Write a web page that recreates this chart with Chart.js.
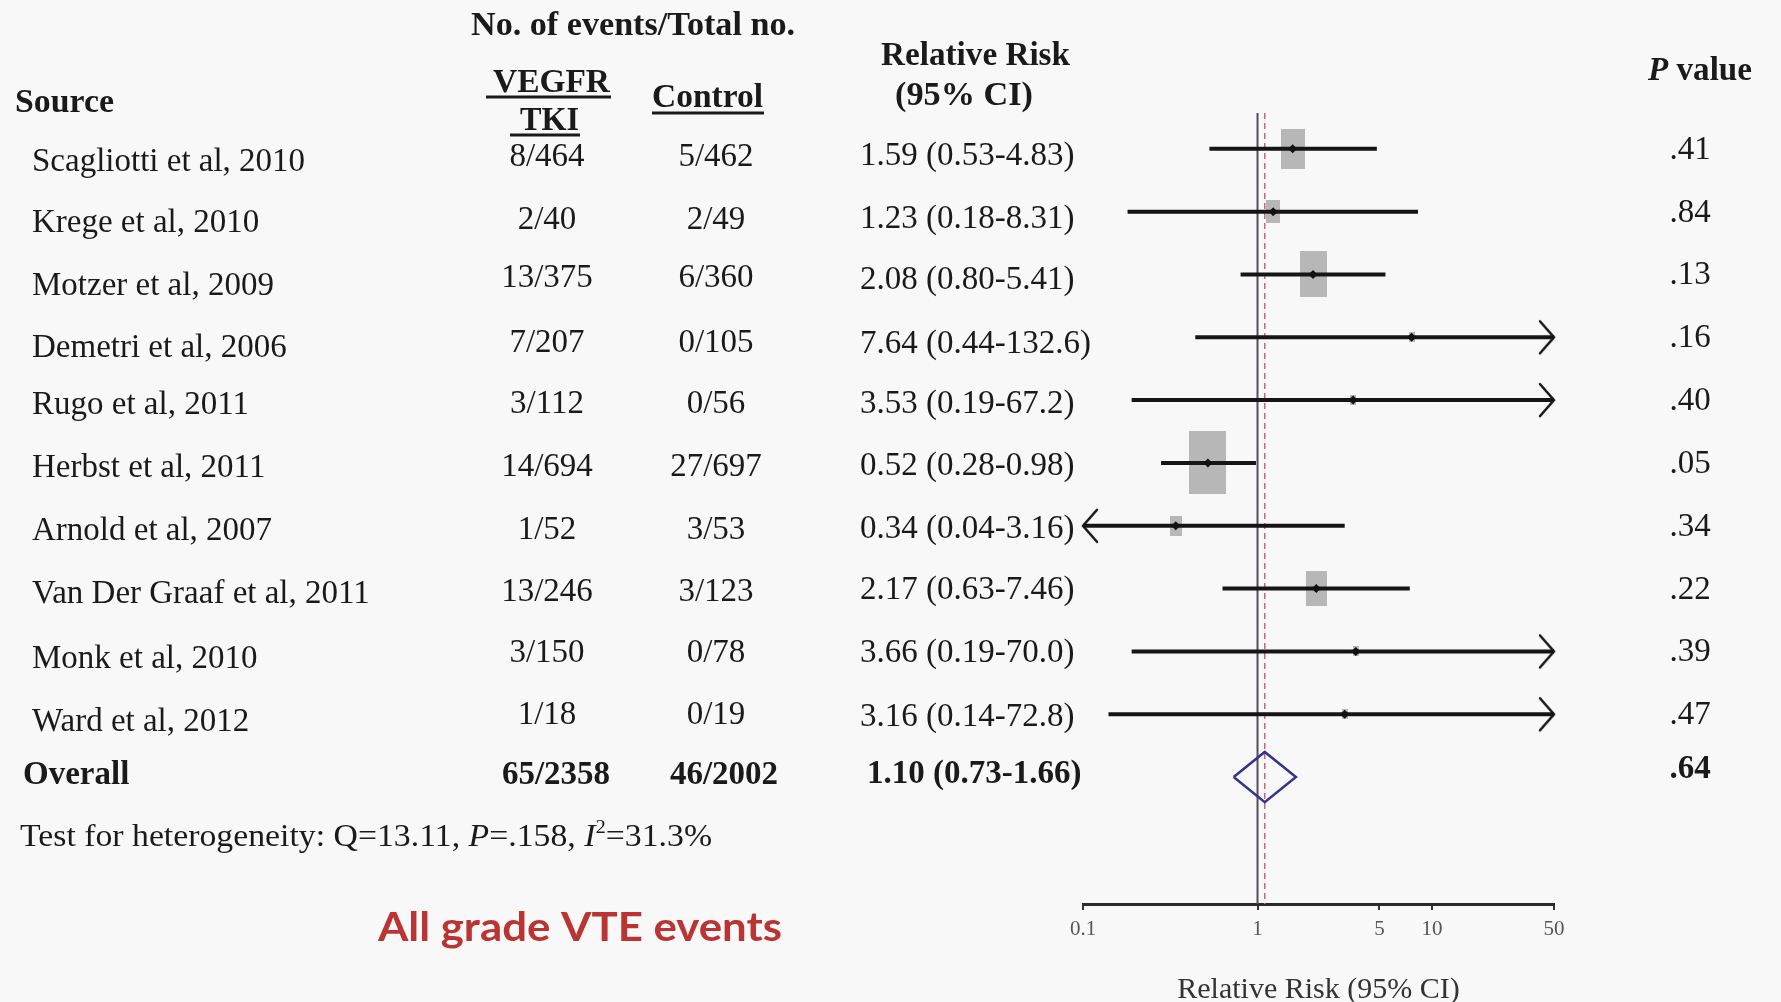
<!DOCTYPE html>
<html>
<head>
<meta charset="utf-8">
<script src="https://cdn.jsdelivr.net/npm/chart.js@4.4.1/dist/chart.umd.min.js"></script>
<style>
  html, body { margin: 0; padding: 0; background: #f8f8f8; }
  #wrap { width: 1781px; height: 1002px; }
</style>
</head>
<body>
<div id="wrap"><canvas id="forest" width="1781" height="1002"></canvas></div>
<script>
const sources = [
  "Scagliotti et al, 2010", "Krege et al, 2010", "Motzer et al, 2009",
  "Demetri et al, 2006", "Rugo et al, 2011", "Herbst et al, 2011",
  "Arnold et al, 2007", "Van Der Graaf et al, 2011", "Monk et al, 2010",
  "Ward et al, 2012",
];
const tkiEvents = ["8/464", "2/40", "13/375", "7/207", "3/112", "14/694", "1/52", "13/246", "3/150", "1/18"];
const controlEvents = ["5/462", "2/49", "6/360", "0/105", "0/56", "27/697", "3/53", "3/123", "0/78", "0/19"];
const riskRatio = [1.59, 1.23, 2.08, 7.64, 3.53, 0.52, 0.34, 2.17, 3.66, 3.16];
const ciLow = [0.53, 0.18, 0.80, 0.44, 0.19, 0.28, 0.04, 0.63, 0.19, 0.14];
const ciHigh = [4.83, 8.31, 5.41, 132.6, 67.2, 0.98, 3.16, 7.46, 70.0, 72.8];
const pValues = [".41", ".84", ".13", ".16", ".40", ".05", ".34", ".22", ".39", ".47"];
// study weight (%)
const weights = [16, 5, 21, 1, 1, 39, 4, 12, 1, 1];

const overallRR = 1.10;
const overallLow = 0.73;
const overallHigh = 1.66;
const overallTki = "65/2358";
const overallControl = "46/2002";
const overallP = ".64";
const hetQ = "13.11";
const hetP = ".158";
const hetI2 = "31.3%";

const xTicks = [0.1, 1, 5, 10, 50];
const xTickLabels = ["0.1", "1", "5", "10", "50"];

const X_MIN = 0.1;
const X_MAX = 50;
const Y_TOP = -0.57;
const Y_BOTTOM = 12.02;
const OVERALL_ROW = sources.length;

const SERIF = '"Liberation Serif", "Times New Roman", serif';
const INK = "#1a1a1a";
// the pasted table sits a little lower than the plot on the first rows
const nameShift = [8, 6, 7, 6, 0, 0, 0, 0, 3, 3];
const countShift = [4, 4, 0, 2, 0, 0, 0, -1, -2, -3];
const rrShift = [3, 3, 2, 3, 0, -1, -1, -3, -2, -1];

function rrLabel(r, l, h) {
  const hs = h >= 10 ? h.toFixed(1) : h.toFixed(2);
  return r.toFixed(2) + " (" + l.toFixed(2) + "-" + hs + ")";
}

function boxCanvas(w) {
  const h = Math.round(10.1 * Math.sqrt(w));
  const c = document.createElement("canvas");
  c.width = Math.max(2, Math.round(h * 0.59));
  c.height = Math.max(2, h);
  const g = c.getContext("2d");
  g.fillStyle = "#b7b7b7";
  g.fillRect(0, 0, c.width, c.height);
  return c;
}

function chevron(dir) {
  const L = 14, H = 16;
  const c = document.createElement("canvas");
  c.width = L * 2 + 6;
  c.height = H * 2 + 6;
  const g = c.getContext("2d");
  const cx = c.width / 2, cy = c.height / 2;
  g.strokeStyle = "#151515";
  g.lineWidth = 2.5;
  g.lineCap = "round";
  g.beginPath();
  g.moveTo(cx - dir * L, cy - H);
  g.lineTo(cx, cy);
  g.lineTo(cx - dir * L, cy + H);
  g.stroke();
  return c;
}

const boxImgs = weights.map(boxCanvas);
const rightArrow = chevron(1);
const leftArrow = chevron(-1);

// text helpers
function fitText(ctx, str, x, y, font, width) {
  ctx.font = font;
  const natural = ctx.measureText(str).width;
  ctx.save();
  ctx.translate(x, y);
  ctx.scale(width / natural, 1);
  ctx.textAlign = "left";
  ctx.fillText(str, 0, 0);
  ctx.restore();
}

function drawRuns(ctx, runs, x, y, width) {
  let total = 0;
  runs.forEach((r) => { ctx.font = r.font; r.w = ctx.measureText(r.t).width; total += r.w; });
  const sx = width ? width / total : 1;
  ctx.save();
  ctx.translate(x, y);
  ctx.scale(sx, 1);
  ctx.textAlign = "left";
  let cx = 0;
  runs.forEach((r) => {
    ctx.font = r.font;
    ctx.fillText(r.t, cx, r.dy || 0);
    cx += r.w;
  });
  ctx.restore();
}

function plain(ctx, str, x, y, font, align) {
  ctx.font = font;
  ctx.textAlign = align;
  ctx.fillText(str, x, y);
}

function underline(ctx, x1, x2, y) {
  ctx.fillRect(x1, y - 1.5, x2 - x1, 3);
}

const background = {
  id: "background",
  beforeDraw(chart) {
    const { ctx, width, height } = chart;
    ctx.save();
    ctx.fillStyle = "#f8f8f8";
    ctx.fillRect(0, 0, width, height);
    ctx.restore();
  },
};

const tablePlugin = {
  id: "forestTable",
  afterDraw(chart) {
    const { ctx } = chart;
    const ys = chart.scales.y;
    const rowPx = (i) => ys.getPixelForValue(i);
    const reg = "33px " + SERIF;
    const bold = "bold 33px " + SERIF;

    ctx.save();
    ctx.fillStyle = INK;
    ctx.textBaseline = "alphabetic";

    // column headers
    fitText(ctx, "No. of events/Total no.", 471, 35, bold, 324);
    fitText(ctx, "VEGFR", 493, 92, bold, 117);
    underline(ctx, 486, 611, 97);
    fitText(ctx, "TKI", 520, 130, bold, 59);
    underline(ctx, 510, 580, 135);
    fitText(ctx, "Control", 652, 107, bold, 111);
    underline(ctx, 652, 764, 113);
    fitText(ctx, "Source", 15, 112, bold, 99);
    fitText(ctx, "Relative Risk", 881, 65, bold, 189);
    fitText(ctx, "(95% CI)", 895, 105, bold, 138);
    drawRuns(ctx, [
      { t: "P", font: "italic bold 33px " + SERIF },
      { t: " value", font: bold },
    ], 1648, 80, 104);

    // study rows
    sources.forEach((s, i) => {
      const py = rowPx(i);
      plain(ctx, s, 32, py + 14 + nameShift[i], reg, "left");
      plain(ctx, tkiEvents[i], 547, py + 13 + countShift[i], reg, "center");
      plain(ctx, controlEvents[i], 716, py + 13 + countShift[i], reg, "center");
      plain(ctx, rrLabel(riskRatio[i], ciLow[i], ciHigh[i]), 860, py + 13 + rrShift[i], reg, "left");
      plain(ctx, pValues[i], 1690, py + 10, reg, "center");
    });

    // overall row
    const oy = rowPx(OVERALL_ROW);
    plain(ctx, "Overall", 23, oy + 7, bold, "left");
    plain(ctx, overallTki, 556, oy + 7, bold, "center");
    plain(ctx, overallControl, 724, oy + 7, bold, "center");
    plain(ctx, rrLabel(overallRR, overallLow, overallHigh), 867, oy + 6, bold, "left");
    plain(ctx, overallP, 1690, oy + 1, bold, "center");

    // heterogeneity
    const hf = "31px " + SERIF;
    const hi = "italic 31px " + SERIF;
    drawRuns(ctx, [
      { t: "Test for heterogeneity: Q=" + hetQ + ", ", font: hf },
      { t: "P", font: hi },
      { t: "=" + hetP + ", ", font: hf },
      { t: "I", font: hi },
      { t: "2", font: "19px " + SERIF, dy: -13 },
      { t: "=" + hetI2, font: hf },
    ], 20, 846, 692);

    // panel label
    ctx.fillStyle = "#bb3434";
    fitText(ctx, "All grade VTE events", 378, 941, "bold 41px Lato, sans-serif", 404);
    ctx.restore();
  },
};

const ciSets = sources.map((s, i) => ({
  type: "line",
  label: s,
  data: [{ x: ciLow[i], y: i }, { x: ciHigh[i], y: i }],
  borderColor: "#151515",
  borderWidth: 4,
  pointRadius: 0,
  order: 1,
}));

const rightIdx = ciHigh.map((h, i) => (h > X_MAX ? i : -1)).filter((i) => i >= 0);
const leftIdx = ciLow.map((l, i) => (l < X_MIN ? i : -1)).filter((i) => i >= 0);

const datasets = [
  {
    type: "scatter",
    label: "estimate",
    data: riskRatio.map((v, i) => ({ x: v, y: i })),
    pointStyle: "rectRot",
    pointRadius: 4.5,
    backgroundColor: "#111",
    borderWidth: 0,
    order: 0,
  },
  ...ciSets,
  {
    type: "scatter",
    label: "weight",
    data: riskRatio.map((v, i) => ({ x: v, y: i })),
    pointStyle: (c) => boxImgs[c.dataIndex],
    pointRadius: 4,
    order: 2,
  },
  {
    type: "scatter",
    label: "right arrows",
    data: rightIdx.map((i) => ({ x: X_MAX, y: i })),
    pointStyle: rightArrow,
    pointRadius: 3,
    clip: false,
    order: 1,
  },
  {
    type: "scatter",
    label: "left arrows",
    data: leftIdx.map((i) => ({ x: X_MIN, y: i })),
    pointStyle: leftArrow,
    pointRadius: 3,
    clip: false,
    order: 1,
  },
  {
    type: "line",
    label: "overall",
    data: [
      { x: overallLow, y: OVERALL_ROW },
      { x: overallRR, y: OVERALL_ROW - 0.4 },
      { x: overallHigh, y: OVERALL_ROW },
      { x: overallRR, y: OVERALL_ROW + 0.4 },
      { x: overallLow, y: OVERALL_ROW },
    ],
    borderColor: "#34348c",
    borderWidth: 2.5,
    pointRadius: 0,
    tension: 0,
    fill: false,
    order: 3,
  },
  {
    type: "line",
    label: "no effect",
    data: [{ x: 1, y: Y_TOP }, { x: 1, y: Y_BOTTOM }],
    borderColor: "#5b4b5b",
    borderWidth: 2,
    pointRadius: 0,
    order: 4,
  },
  {
    type: "line",
    label: "pooled",
    data: [{ x: overallRR, y: Y_TOP }, { x: overallRR, y: Y_BOTTOM }],
    borderColor: "#d0607c",
    borderWidth: 1.5,
    borderDash: [6, 4],
    pointRadius: 0,
    order: 4,
  },
];

new Chart(document.getElementById("forest"), {
  type: "scatter",
  data: { datasets },
  options: {
    responsive: false,
    animation: false,
    devicePixelRatio: 1,
    layout: { padding: { left: 1083, right: 227, top: 113, bottom: 0 } },
    plugins: { legend: { display: false }, tooltip: { enabled: false } },
    scales: {
      x: {
        type: "logarithmic",
        position: "bottom",
        min: X_MIN,
        max: X_MAX,
        afterBuildTicks: (s) => { s.ticks = xTicks.map((v) => ({ value: v })); },
        afterFit: (s) => { s.height = 98; },
        ticks: {
          autoSkip: false,
          maxRotation: 0,
          padding: 7,
          color: "#555",
          font: { family: SERIF, size: 21 },
          callback: (v, i) => xTickLabels[i],
        },
        grid: { drawOnChartArea: false, drawTicks: true, tickLength: 6, color: "#333", lineWidth: 2 },
        border: { display: true, color: "#2a2a2a", width: 3 },
        title: {
          display: true,
          text: "Relative Risk (95% CI)",
          color: "#333",
          font: { family: SERIF, size: 30, lineHeight: 0.8 },
          padding: { top: 0, bottom: 0 },
        },
      },
      y: { type: "linear", min: Y_TOP, max: Y_BOTTOM, reverse: true, display: false },
    },
  },
  plugins: [background, tablePlugin],
});
</script>
</body>
</html>
